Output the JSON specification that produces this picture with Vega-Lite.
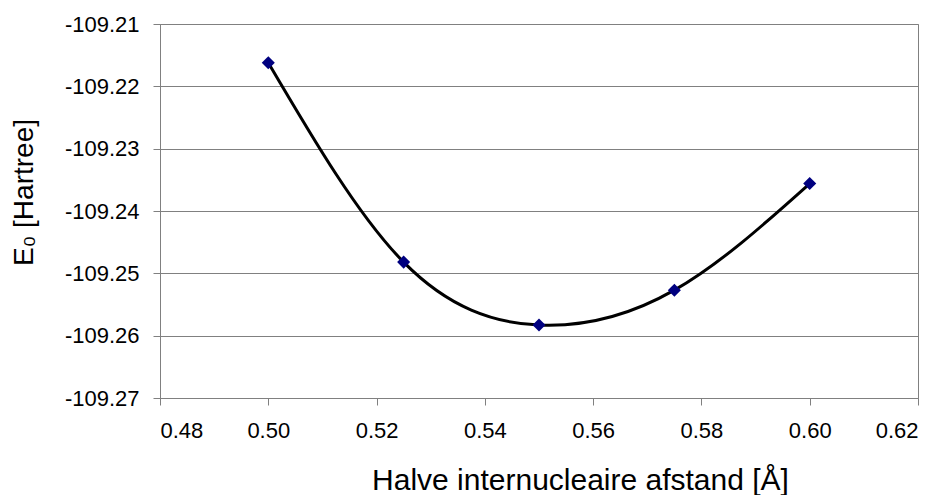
{
  "$schema": "https://vega.github.io/schema/vega-lite/v6.json",
  "width": 758,
  "height": 374,
  "autosize": {"type": "none"},
  "padding": {"left": 160, "top": 24, "right": 22, "bottom": 97},
  "background": "white",
  "config": {
    "font": "Liberation Sans",
    "view": {"stroke": "#808080", "strokeWidth": 1}
  },
  "data": {
    "values": [
      {"r": 0.500, "E": -109.2162},
      {"r": 0.525, "E": -109.2482},
      {"r": 0.550, "E": -109.2583},
      {"r": 0.575, "E": -109.2527},
      {"r": 0.600, "E": -109.2356}
    ]
  },
  "encoding": {
    "x": {
      "field": "r", "type": "quantitative",
      "scale": {"domain": [0.48, 0.62], "nice": false, "zero": false},
      "axis": {
        "title": "Halve internucleaire afstand [Å]",
        "values": [0.48, 0.50, 0.52, 0.54, 0.56, 0.58, 0.60, 0.62],
        "format": ".2f",
        "grid": false,
        "domainColor": "#808080",
        "tickColor": "#808080",
        "tickSize": 7,
        "labelFontSize": 22,
        "labelColor": "#000000",
        "labelPadding": 15,
        "titleFontSize": 30,
        "titleFontWeight": "normal",
        "titleColor": "#000000",
        "titlePadding": 24,
        "titleX": 420
      }
    },
    "y": {
      "field": "E", "type": "quantitative",
      "scale": {"domain": [-109.27, -109.21], "nice": false, "zero": false},
      "axis": {
        "title": "E₀ [Hartree]",
        "values": [-109.27, -109.26, -109.25, -109.24, -109.23, -109.22, -109.21],
        "labelExpr": "replace(format(datum.value, '.2f'), '−', '-')",
        "grid": true,
        "gridColor": "#808080",
        "gridOpacity": 1,
        "domainColor": "#808080",
        "tickColor": "#808080",
        "tickSize": 7,
        "labelFontSize": 22,
        "labelColor": "#000000",
        "labelPadding": 14,
        "titleFontSize": 28,
        "titleFontWeight": "normal",
        "titleColor": "#000000",
        "titlePadding": 26,
        "titleY": 168
      }
    }
  },
  "layer": [
    {
      "mark": {"type": "line", "interpolate": "natural", "color": "#000000", "strokeWidth": 3}
    },
    {
      "mark": {"type": "point", "shape": "diamond", "filled": true, "color": "#000080", "size": 170, "opacity": 1}
    }
  ]
}
